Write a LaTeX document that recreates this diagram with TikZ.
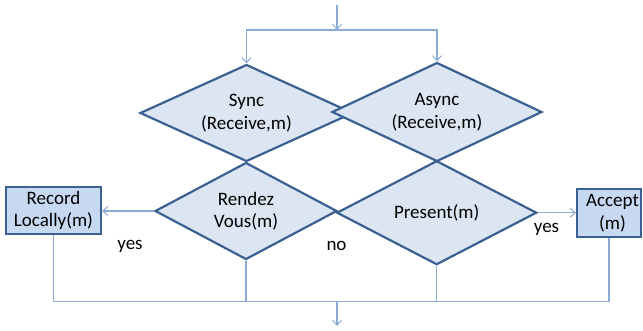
\documentclass[tikz,border=0pt]{standalone}
\usepackage{fontspec}
\setmainfont{Carlito}
\usetikzlibrary{shapes.geometric,arrows.meta}
\definecolor{dfill}{HTML}{DCE6F2}
\definecolor{bfill}{HTML}{C6D9F1}
\definecolor{dborder}{HTML}{3B6193}
\definecolor{conn}{HTML}{8AAAD8}
\begin{document}
\begin{tikzpicture}[x=1pt,y=-1pt,
  every node/.style={font=\fontsize{19}{22.5}\selectfont, text=black},
  decision/.style={diamond, draw=dborder, line width=2.2pt, fill=dfill, inner sep=0pt, align=center},
  procbox/.style={rectangle, draw=dborder, line width=2.2pt, fill=bfill, inner sep=0pt, align=center},
  conline/.style={draw=conn, line width=1.3pt},
  arr/.style={conline, -{Straight Barb[length=5pt,width=9pt,line width=1pt]}},
  lbl/.style={inner sep=0pt}
]
\useasboundingbox (0,0) rectangle (643,330);
\coordinate (top) at (337,5);
\coordinate (split) at (337,30);
\coordinate (join) at (337,301.7);
\coordinate (end) at (337,326);

% shapes
\node[decision, minimum width=213pt, minimum height=97pt, aspect=2.1] (sync) at (246.5,113) {Sync\\(Receive,m)};
\node[decision, minimum width=210pt, minimum height=99pt, aspect=2.1] (async) at (437,112) {Async\\(Receive,m)};
\node[decision, minimum width=182pt, minimum height=97pt, aspect=1.9] (rendez) at (246,211) {Rendez\\Vous(m)};
\node[decision, minimum width=200pt, minimum height=104pt, aspect=1.9] (present) at (436.7,212.7) {Present(m)};
\node[procbox, minimum width=95pt, minimum height=47.5pt] (record) at (53.5,210.5) {Record\\Locally(m)};
\node[procbox, minimum width=64pt, minimum height=47.5pt] (accept) at (609,213) {\hspace*{7pt}Accept\\\hspace*{7pt}(m)};

% connectors
\draw[arr] (top) -- (split);
\draw[arr] (split) -| (sync.north);
\draw[arr] (split) -| (async.north);
\draw[arr] (rendez.west) -- (rendez.west -| record.east);
\draw[arr] (present.east) -- (present.east -| accept.west);
\draw[conline] (record.south) |- (join);
\draw[conline] (rendez.south) |- (join);
\draw[conline] (present.south) |- (join);
\draw[conline] (accept.south) |- (join);
\draw[arr] (join) -- (end);

% labels
\node[lbl] (yes1) at (130,246) {yes};
\node[lbl] (no1) at (336.5,246) {no};
\node[lbl] (yes2) at (546.5,229) {yes};
\end{tikzpicture}
\end{document}
